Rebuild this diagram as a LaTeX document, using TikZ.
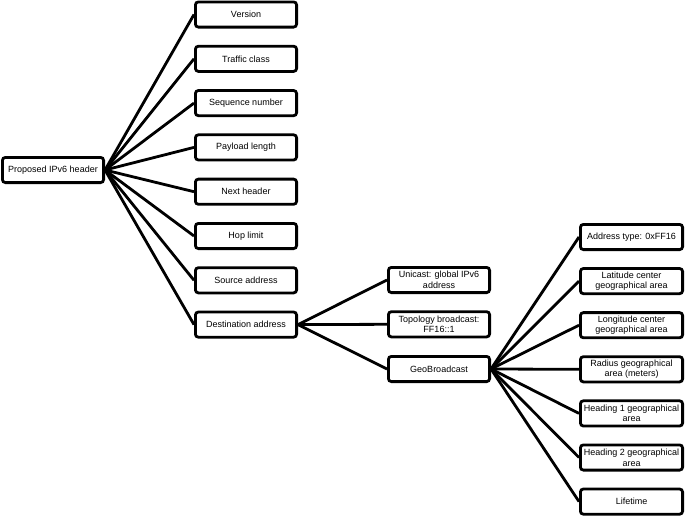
\documentclass[tikz,border=0pt]{standalone}
\usepackage{fontspec}
\setmainfont{Liberation Sans}
\begin{document}
\begin{tikzpicture}[x=1pt,y=-1pt,
  box/.style={draw, line width=2.8pt, rounded corners=3pt, fill=white, inner sep=0pt,
    align=center, minimum height=25.2pt, font=\fontsize{9}{10.7}\selectfont},
  boxa/.style={box, minimum width=101.2pt},
  boxc/.style={box, minimum width=102.2pt},
  conn/.style={line width=2.8pt}]
\useasboundingbox (0,0) rectangle (685,517);
\node[boxa] (root) at (53,170) {Proposed IPv6 header};
\node[boxa] (ver) at (246,14.5) {Version};
\node[boxa] (tc) at (246,58.8) {Traffic class};
\node[boxa] (seq) at (246,103.1) {Sequence number};
\node[boxa] (pay) at (246,147.4) {Payload length};
\node[boxa] (nh) at (246,191.7) {Next header};
\node[boxa] (hop) at (246,236) {Hop limit};
\node[boxa] (src) at (246,280.3) {Source address};
\node[boxa] (dst) at (246,324.6) {Destination address};
\node[boxa] (uni) at (439,280) {Unicast: global IPv6\\address};
\node[boxa] (topo) at (439,324.3) {Topology broadcast:\\FF16::1};
\node[boxa] (geo) at (439,369) {GeoBroadcast};
\node[boxc] (at) at (631.5,237) {Address type: 0xFF16};
\node[boxc] (lat) at (631.5,281.1) {Latitude center\\geographical area};
\node[boxc] (lon) at (631.5,325.2) {Longitude center\\geographical area};
\node[boxc] (rad) at (631.5,369.3) {Radius geographical\\area (meters)};
\node[boxc] (h1) at (631.5,413.4) {Heading 1 geographical\\area};
\node[boxc] (h2) at (631.5,457.5) {Heading 2 geographical\\area};
\node[boxc] (life) at (631.5,501.6) {Lifetime};
\foreach \n in {ver,tc,seq,pay,nh,hop,src,dst}
  \draw[conn] (root.east) -- (\n.west);
\foreach \n in {uni,topo,geo}
  \draw[conn] (dst.east) -- (\n.west);
\foreach \n in {at,lat,lon,rad,h1,h2,life}
  \draw[conn] (geo.east) -- (\n.west);
\end{tikzpicture}
\end{document}
